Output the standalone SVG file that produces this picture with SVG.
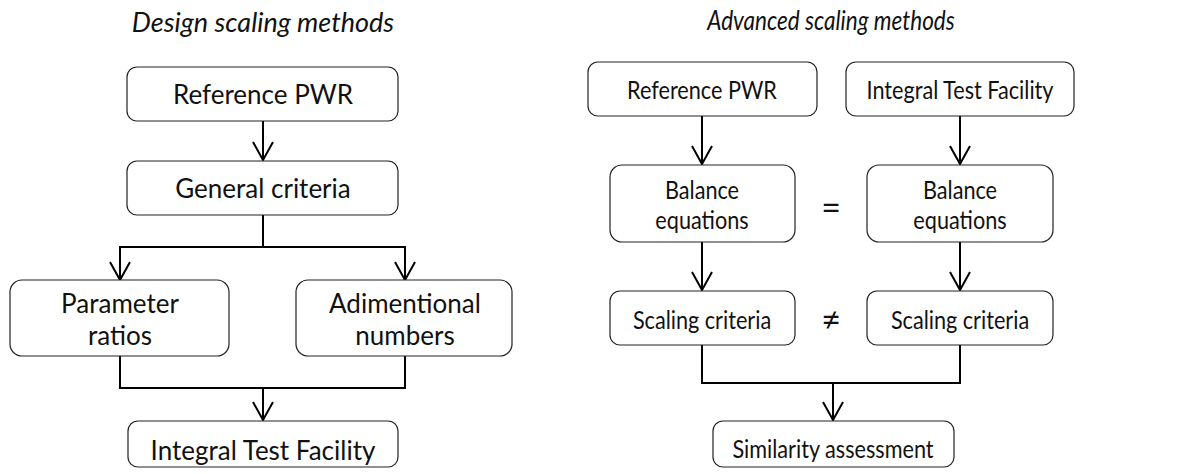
<svg xmlns="http://www.w3.org/2000/svg" width="1189" height="474" viewBox="0 0 1189 474">
<style>
.box{fill:#fff;stroke:#222;stroke-width:1.2}
.t{font-family:Lato,"Noto Sans",sans-serif;font-size:26px;fill:#111;text-anchor:middle}
.r{font-size:24.6px}
.sym{font-size:34px}
.title{font-family:Lato,"Noto Sans",sans-serif;font-size:27px;font-style:italic;fill:#111;text-anchor:middle}
.title2{font-size:26.5px}
.c{fill:none;stroke:#000;stroke-width:2}
</style>
<defs>
<marker id="ah" viewBox="0 0 20 22" refX="19" refY="11" markerWidth="20" markerHeight="22" markerUnits="userSpaceOnUse" orient="auto">
<path d="M1,1 L19,11 L1,21" fill="none" stroke="#000" stroke-width="2"/>
</marker>
</defs>
<text class="title" x="263" y="32">Design scaling methods</text>
<text class="title title2" transform="translate(831 30) scale(0.85 1)">Advanced scaling methods</text>
<g id="connectors">
<path class="c" d="M263,121 V160" marker-end="url(#ah)"/>
<path class="c" d="M263,215 V247 H120 V280" marker-end="url(#ah)"/>
<path class="c" d="M263,247 H405 V280" marker-end="url(#ah)"/>
<path class="c" d="M120,356 V388 H405 V356"/>
<path class="c" d="M263,388 V420" marker-end="url(#ah)"/>
<path class="c" d="M702,116 V164" marker-end="url(#ah)"/>
<path class="c" d="M960,116 V164" marker-end="url(#ah)"/>
<path class="c" d="M702,242 V290" marker-end="url(#ah)"/>
<path class="c" d="M960,242 V290" marker-end="url(#ah)"/>
<path class="c" d="M702,345 V383 H960 V345"/>
<path class="c" d="M833,383 V420" marker-end="url(#ah)"/>
</g>
<g id="n-ref-left"><rect class="box" x="127" y="67" width="271" height="54" rx="10"/><text class="t" x="263" y="104">Reference PWR</text></g>
<g id="n-general"><rect class="box" x="127" y="161" width="271" height="54" rx="10"/><text class="t" x="263" y="198">General criteria</text></g>
<g id="n-param"><rect class="box" x="10" y="280" width="219" height="76" rx="12"/><text class="t" x="120" y="313">Parameter</text><text class="t" x="120" y="345">ratios</text></g>
<g id="n-adim"><rect class="box" x="296" y="280" width="216" height="76" rx="12"/><text class="t" x="405" y="313">Adimentional</text><text class="t" x="405" y="345">numbers</text></g>
<g id="n-itf-left"><rect class="box" x="128" y="421" width="270" height="46" rx="10"/><text class="t" x="263" y="460">Integral Test Facility</text></g>
<g id="n-ref-right"><rect class="box" x="588" y="62" width="229" height="54" rx="10"/><text class="t r" transform="translate(702 99) scale(0.88 1)">Reference PWR</text></g>
<g id="n-itf-right"><rect class="box" x="846" y="62" width="228" height="54" rx="10"/><text class="t r" transform="translate(960 99) scale(0.88 1)">Integral Test Facility</text></g>
<g id="n-bal-left"><rect class="box" x="610" y="165" width="185" height="77" rx="12"/><text class="t r" transform="translate(702 199) scale(0.88 1)">Balance</text><text class="t r" transform="translate(702 229) scale(0.88 1)">equations</text></g>
<g id="n-bal-right"><rect class="box" x="867" y="165" width="186" height="77" rx="12"/><text class="t r" transform="translate(960 199) scale(0.88 1)">Balance</text><text class="t r" transform="translate(960 229) scale(0.88 1)">equations</text></g>
<text class="t sym" x="831" y="220">=</text>
<g id="n-sc-left"><rect class="box" x="610" y="291" width="185" height="54" rx="10"/><text class="t r" transform="translate(702 329) scale(0.88 1)">Scaling criteria</text></g>
<g id="n-sc-right"><rect class="box" x="867" y="291" width="186" height="54" rx="10"/><text class="t r" transform="translate(960 329) scale(0.88 1)">Scaling criteria</text></g>
<text class="t sym" x="831" y="332">≠</text>
<g id="n-sim"><rect class="box" x="713" y="421" width="241" height="46" rx="10"/><text class="t r" transform="translate(833 458) scale(0.88 1)">Similarity assessment</text></g>
</svg>
